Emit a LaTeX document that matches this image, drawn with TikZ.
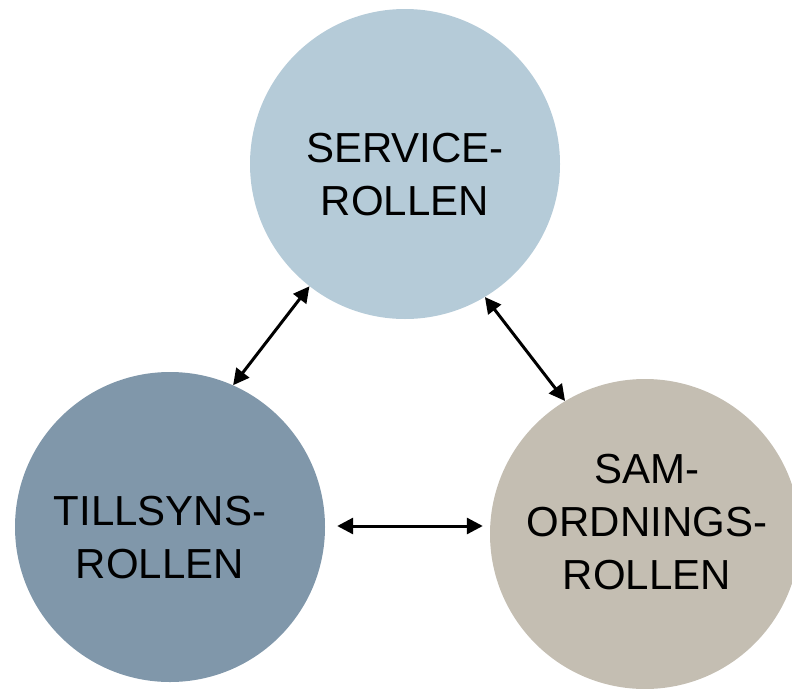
\documentclass[tikz,border=0pt]{standalone}
\usepackage{fontspec}
\setmainfont{Liberation Sans}
\usetikzlibrary{arrows.meta}
\definecolor{servc}{HTML}{B5CBD8}
\definecolor{tillc}{HTML}{8097AA}
\definecolor{samc}{HTML}{C4BEB2}
\tikzset{
  role/.style={circle, minimum size=310pt, inner sep=0pt, draw=none},
  rtext/.style={align=center, inner sep=0pt, font=\fontsize{42pt}{53pt}\selectfont, text=black},
  arr/.style={line width=3pt, draw=black, {Triangle[length=16pt,width=16pt]}-{Triangle[length=16pt,width=16pt]}}
}
\begin{document}
\begin{tikzpicture}[x=1pt,y=-1pt]
\useasboundingbox (0,0) rectangle (792,688);
\node[role, fill=servc] (S) at (405,164) {};
\node[role, fill=tillc] (T) at (170,527) {};
\node[role, fill=samc] (R) at (645,534) {};
\node[rtext] (St) at (405,175) {SERVICE-\\ROLLEN};
\node[rtext] (Tt) at (160,538) {TILLSYNS-\\ROLLEN};
\node[rtext] (Rt) at (647,522.5) {SAM-\\ORDNINGS-\\ROLLEN};
\draw[arr] (T.66.4) -- (S.232.5);
\draw[arr] (S.301.4) -- (R.121.7);
\draw[arr] ([xshift=12pt,yshift=1pt]T.east) -- ([xshift=-7pt,yshift=8pt]R.west);
\end{tikzpicture}
\end{document}
